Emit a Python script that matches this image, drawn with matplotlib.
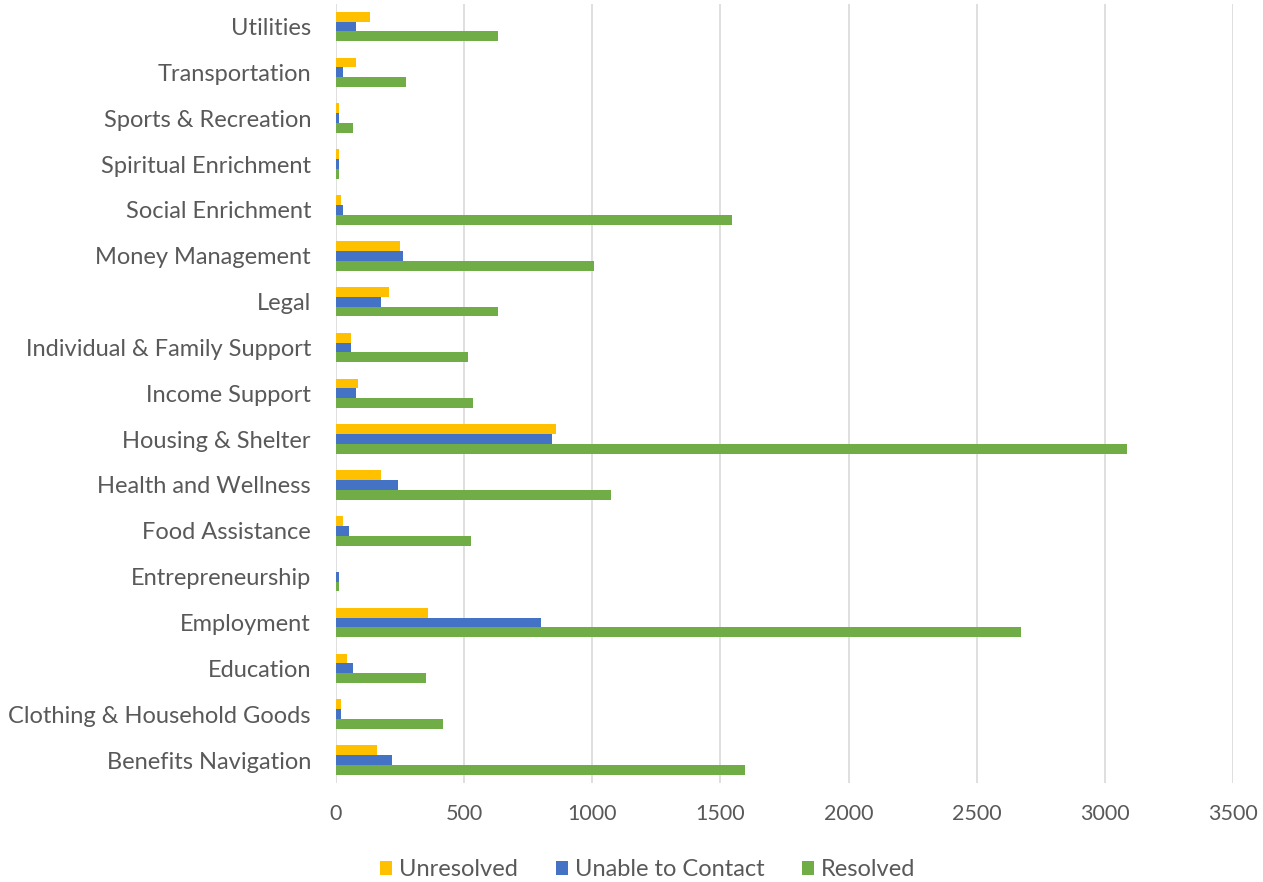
import matplotlib
matplotlib.use("Agg")
import matplotlib.pyplot as plt
import numpy as np
from matplotlib.patches import Patch

categories = [
    "Benefits Navigation", "Clothing & Household Goods", "Education", "Employment",
    "Entrepreneurship", "Food Assistance", "Health and Wellness", "Housing & Shelter",
    "Income Support", "Individual & Family Support", "Legal", "Money Management",
    "Social Enrichment", "Spiritual Enrichment", "Sports & Recreation",
    "Transportation", "Utilities",
]
unresolved = [160, 18, 43, 359, 0, 26, 175, 858, 84, 60, 208, 251, 18, 10, 10, 77, 134]
unable_to_contact = [217, 18, 67, 800, 10, 52, 243, 841, 77, 60, 177, 260, 26, 10, 10, 26, 77]
resolved = [1595, 417, 350, 2673, 10, 525, 1074, 3085, 533, 516, 633, 1006, 1547, 12, 67, 275, 633]
x_ticks = [0, 500, 1000, 1500, 2000, 2500, 3000, 3500]

series_names = ["Unresolved", "Unable to Contact", "Resolved"]
colors = ["#FFC000", "#4472C4", "#70AD47"]

plt.rcParams["font.family"] = ["Lato", "DejaVu Sans"]
text_color = "#595959"

fig = plt.figure(figsize=(12.63, 8.82), dpi=100)
ax = fig.add_axes([336 / 1263, 1 - 783 / 882, (1233 - 336) / 1263, (783 - 3.6) / 882])

y = np.arange(len(categories))
h = 0.215
for vals, off, c in zip([unresolved, unable_to_contact, resolved], [h, 0, -h], colors):
    ax.barh(y + off, vals, height=h, color=c, zorder=3)

ax.set_ylim(-0.5, len(categories) - 0.5)
ax.set_xlim(0, 3500)
ax.set_xticks(x_ticks)
ax.set_xticklabels([str(t) for t in x_ticks])
ax.set_yticks(y)
ax.set_yticklabels(categories)
ax.tick_params(axis="both", length=0, colors=text_color)
ax.tick_params(axis="y", pad=18, labelsize=17)
ax.tick_params(axis="x", pad=15, labelsize=15.5)
ax.grid(axis="x", color="#D9D9D9", linewidth=1.2, zorder=0)
for s in ax.spines.values():
    s.set_visible(False)

handles = [Patch(facecolor=c, edgecolor="none") for c in colors]
fig.legend(handles, series_names, loc="center", bbox_to_anchor=(648 / 1263, 1 - 870 / 882),
           ncol=3, frameon=False, fontsize=17, labelcolor=text_color,
           handlelength=0.5, handleheight=0.5, handletextpad=0.3, columnspacing=1.6)

fig.savefig("out.png", dpi=100, facecolor="white")
